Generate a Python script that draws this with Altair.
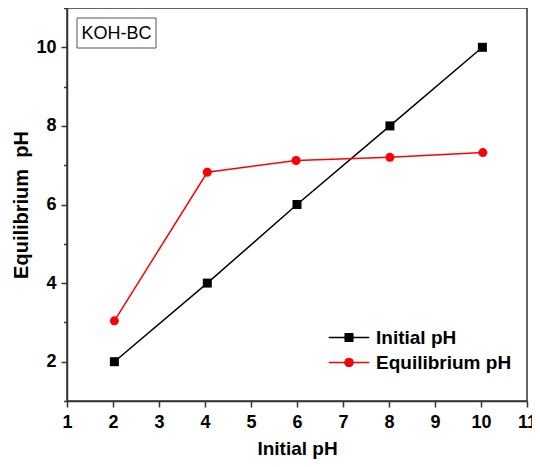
import altair as alt
import pandas as pd

series_names = ["Initial pH", "Equilibrium pH"]
x_initial = [2.03, 4.05, 6.0, 8.02, 10.03]
y_initial = [2.0, 4.0, 6.0, 8.0, 10.0]
x_equil = [2.03, 4.05, 5.98, 8.02, 10.04]
y_equil = [3.04, 6.82, 7.12, 7.20, 7.32]
box_label = ["KOH-BC"]

series_col = [series_names[0]] * len(x_initial) + [series_names[1]] * len(x_equil)
df = pd.DataFrame({
    "x": x_initial + x_equil,
    "y": y_initial + y_equil,
    "series": series_col,
    "marker": series_col,
    "order": list(range(len(x_initial))) + list(range(len(x_equil))),
})

FONT = "Liberation Sans"
colors = ["#000000", "#ff0000"]

xscale = alt.Scale(domain=[1, 11], nice=False, zero=False)
yscale = alt.Scale(domain=[1, 11], nice=False, zero=False)

x_ticks = [1 + 0.5 * i for i in range(21)]
y_ticks = list(range(1, 12))

xaxis = alt.Axis(
    title="Initial pH", values=x_ticks, format="d",
    labelExpr="datum.value % 1 === 0 ? datum.label : ''",
    tickSize={"condition": {"test": "datum.value % 1 === 0", "value": 6}, "value": 3.5},
    labelOverlap=False, labelFlush=False, grid=False,
    labelFont=FONT, labelFontWeight="bold", labelFontSize=18, labelColor="#000",
    titleFont=FONT, titleFontWeight="bold", titleFontSize=19, titleColor="#000",
    titlePadding=8, labelPadding=6,
    domainColor="#333", domainWidth=1.5, tickColor="#333", tickWidth=1.5,
)
yaxis = alt.Axis(
    title="Equilibrium\u00a0 pH", values=y_ticks, format="d",
    labelExpr="datum.value % 2 === 0 ? datum.label : ''",
    tickSize={"condition": {"test": "datum.value % 2 === 0", "value": 6}, "value": 3.5},
    labelOverlap=False, labelFlush=False, grid=False,
    labelFont=FONT, labelFontWeight="bold", labelFontSize=18, labelColor="#000",
    titleFont=FONT, titleFontWeight="bold", titleFontSize=20, titleColor="#000",
    titlePadding=4, labelPadding=5,
    domainColor="#333", domainWidth=1.5, tickColor="#333", tickWidth=1.5,
)

base = alt.Chart(df).encode(
    x=alt.X("x:Q", scale=xscale, axis=xaxis),
    y=alt.Y("y:Q", scale=yscale, axis=yaxis),
    order="order:Q",
)

legend_a = alt.Legend(
    title=None, orient="none", legendX=272.5, legendY=320,
    symbolType="M-4.5,0H4.5", symbolSize=81, symbolStrokeWidth=1.5,
    labelFont=FONT, labelFontWeight="bold", labelFontSize=19, labelColor="#000",
    labelOffset=17.5, padding=0, rowPadding=5,
)
legend_b = alt.Legend(
    title=None, orient="none", legendX=272.5, legendY=320,
    symbolSize=81, symbolStrokeWidth=0,
    labelFont=FONT, labelFontWeight="bold", labelFontSize=19, labelOpacity=0,
    labelOffset=17.5, padding=0, rowPadding=5,
)

lines = base.mark_line(strokeWidth=1.5).encode(
    stroke=alt.Stroke("series:N", scale=alt.Scale(domain=series_names, range=colors), legend=legend_a),
    detail="series:N",
)
points = base.mark_point(filled=True, opacity=1, size=81).encode(
    fill=alt.Fill("marker:N", sort=series_names, scale=alt.Scale(range=colors), legend=legend_b),
    shape=alt.Shape("marker:N", sort=series_names, scale=alt.Scale(range=["square", "circle"]), legend=legend_b),
)

box_df = pd.DataFrame({"label": box_label})
box = alt.Chart(box_df).mark_rect(fill="white", stroke="#555", strokeWidth=1).encode(
    x=alt.value(10), x2=alt.value(89), y=alt.value(10), y2=alt.value(40)
)
box_text = alt.Chart(box_df).mark_text(font=FONT, fontSize=18, color="#000", align="center", baseline="middle").encode(
    x=alt.value(49.5), y=alt.value(25.5), text="label:N"
)

chart = alt.layer(lines, points, box, box_text).properties(
    width=460, height=393,
    autosize=alt.AutoSizeParams(type="none"),
    padding={"left": 59, "top": 0, "right": 5, "bottom": 58},
    background="white",
).configure_view(stroke="#333", strokeWidth=1.5)

chart.save("out.html", embed_options={"renderer": "svg", "actions": False})
